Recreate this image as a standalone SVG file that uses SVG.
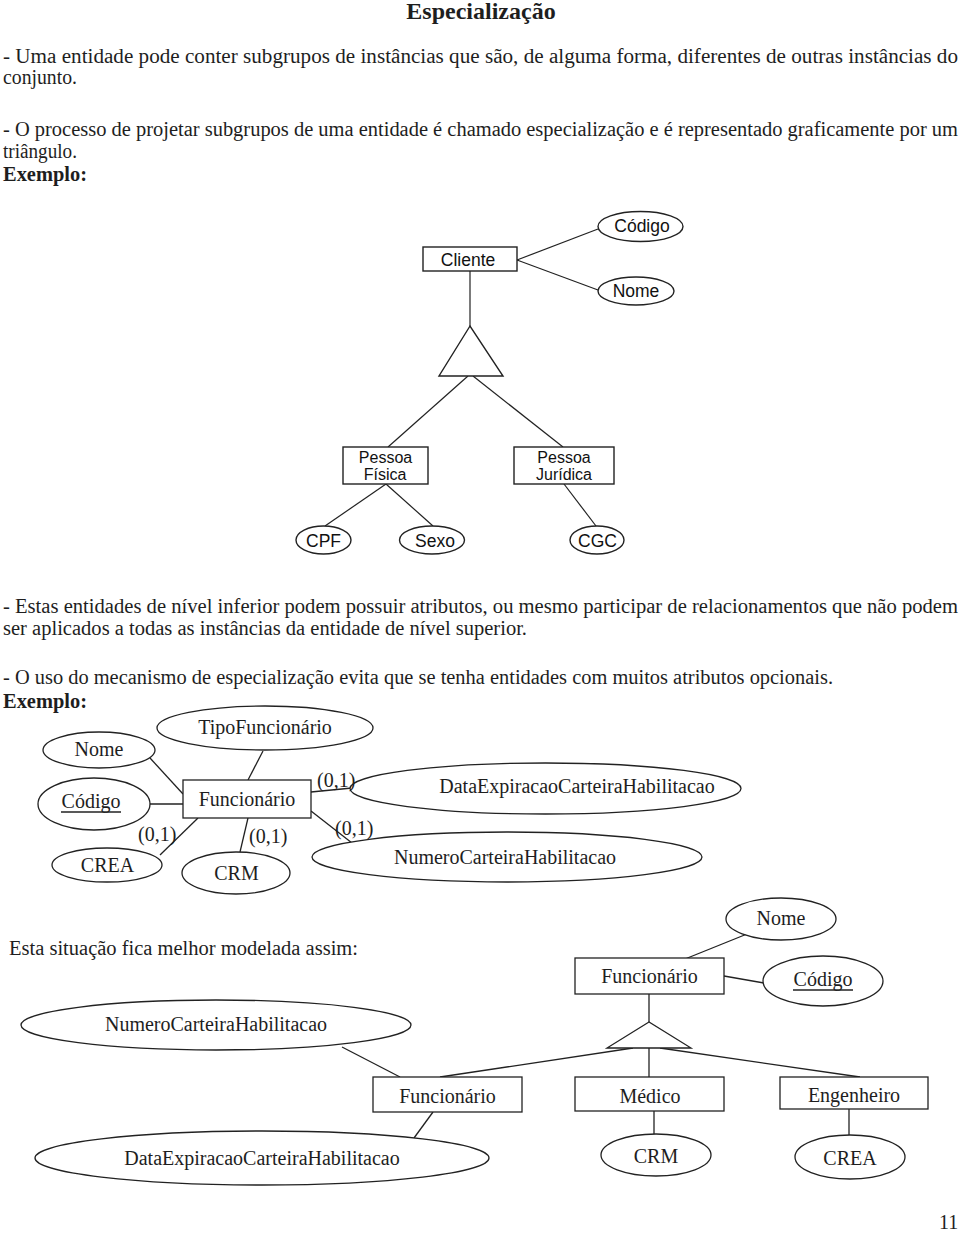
<svg xmlns="http://www.w3.org/2000/svg" width="960" height="1233" viewBox="0 0 960 1233">
<style>
.body{font-family:"Liberation Serif","Times New Roman",serif;font-size:20px;fill:#1e1e1e}
.bold{font-weight:bold}
.title{font-family:"Liberation Serif","Times New Roman",serif;font-size:24px;font-weight:bold;fill:#1e1e1e}
.sans{font-family:"Liberation Sans",Arial,sans-serif;font-size:17.5px;fill:#111;text-anchor:middle}
.sans2{font-family:"Liberation Sans",Arial,sans-serif;font-size:16px;fill:#111;text-anchor:middle}
.serif{font-family:"Liberation Serif","Times New Roman",serif;font-size:20px;fill:#1e1e1e;text-anchor:middle}
.lbl{font-family:"Liberation Serif","Times New Roman",serif;font-size:20px;fill:#1e1e1e}
.s1{fill:#fff;stroke:#222;stroke-width:1.4}
.s2{fill:#fff;stroke:#222;stroke-width:1.3}
.ln1{stroke:#222;stroke-width:1.2;fill:none}
.ln2{stroke:#222;stroke-width:1.3;fill:none}
</style>
<rect width="960" height="1233" fill="#fff"/>

<!-- Text -->
<g id="texts">
<text class="title" x="481" y="19" text-anchor="middle">Especialização</text>
<text class="body" x="3" y="63" textLength="955" lengthAdjust="spacingAndGlyphs">- Uma entidade pode conter subgrupos de instâncias que são, de alguma forma, diferentes de outras instâncias do</text>
<text class="body" x="3" y="84" textLength="74" lengthAdjust="spacingAndGlyphs">conjunto.</text>
<text class="body" x="3" y="136" textLength="955" lengthAdjust="spacingAndGlyphs">- O processo de projetar subgrupos de uma entidade é chamado especialização e é representado graficamente por um</text>
<text class="body" x="3" y="158" textLength="74" lengthAdjust="spacingAndGlyphs">triângulo.</text>
<text class="body bold" x="3" y="181" textLength="84" lengthAdjust="spacingAndGlyphs">Exemplo:</text>
<text class="body" x="3" y="613" textLength="955" lengthAdjust="spacingAndGlyphs">- Estas entidades de nível inferior podem possuir atributos, ou mesmo participar de relacionamentos que não podem</text>
<text class="body" x="3" y="635" textLength="524" lengthAdjust="spacingAndGlyphs">ser aplicados a todas as instâncias da entidade de nível superior.</text>
<text class="body" x="3" y="684" textLength="830" lengthAdjust="spacingAndGlyphs">- O uso do mecanismo de especialização evita que se tenha entidades com muitos atributos opcionais.</text>
<text class="body bold" x="3" y="708" textLength="84" lengthAdjust="spacingAndGlyphs">Exemplo:</text>
<text class="body" x="9" y="955" textLength="349" lengthAdjust="spacingAndGlyphs">Esta situação fica melhor modelada assim:</text>
<text class="body" x="939" y="1229">11</text>
</g>

<!-- Connectors -->
<g id="connectors">
<!-- diagram 1 -->
<line class="ln1" x1="517" y1="260" x2="598" y2="229"/>
<line class="ln1" x1="517" y1="260" x2="598" y2="290"/>
<line class="ln1" x1="470" y1="271" x2="470" y2="326"/>
<line class="ln1" x1="468" y1="376" x2="388" y2="447"/>
<line class="ln1" x1="473" y1="376" x2="563" y2="447"/>
<line class="ln1" x1="386" y1="484" x2="325" y2="526"/>
<line class="ln1" x1="386" y1="484" x2="433" y2="526"/>
<line class="ln1" x1="564" y1="484" x2="596" y2="526"/>
<!-- diagram 2 -->
<line class="ln2" x1="150" y1="758" x2="183" y2="794"/>
<line class="ln2" x1="150" y1="804" x2="183" y2="804"/>
<line class="ln2" x1="263" y1="751" x2="248" y2="780"/>
<line class="ln2" x1="160" y1="855" x2="198" y2="818"/>
<line class="ln2" x1="248" y1="818" x2="240" y2="852"/>
<line class="ln2" x1="311" y1="792" x2="352" y2="788"/>
<line class="ln2" x1="311" y1="811" x2="352" y2="843"/>
<!-- diagram 3 -->
<line class="ln2" x1="747" y1="934" x2="685" y2="959"/>
<line class="ln2" x1="724" y1="976" x2="764" y2="983"/>
<line class="ln2" x1="649" y1="994" x2="649" y2="1022"/>
<line class="ln2" x1="633" y1="1048" x2="440" y2="1077"/>
<line class="ln2" x1="649" y1="1048" x2="649" y2="1077"/>
<line class="ln2" x1="660" y1="1048" x2="860" y2="1077"/>
<line class="ln2" x1="342" y1="1047" x2="400" y2="1077"/>
<line class="ln2" x1="433" y1="1112" x2="414" y2="1138"/>
<line class="ln2" x1="654" y1="1111" x2="654" y2="1134"/>
<line class="ln2" x1="849" y1="1109" x2="849" y2="1135"/>
</g>

<!-- Diagram 1 nodes -->
<g id="cliente"><rect class="s1" x="423" y="247" width="94" height="24"/><text class="sans" x="468" y="266">Cliente</text></g>
<g id="codigo1"><ellipse class="s1" cx="640.5" cy="226.5" rx="42.5" ry="15"/><text class="sans" x="642" y="232">Código</text></g>
<g id="nome1"><ellipse class="s1" cx="636" cy="291" rx="38" ry="14"/><text class="sans" x="636" y="297">Nome</text></g>
<g id="tri1"><polygon class="s1" points="470,326 439,376 503,376"/></g>
<g id="pfisica"><rect class="s1" x="343" y="447" width="85" height="37"/><text class="sans2" x="385.5" y="463">Pessoa</text><text class="sans2" x="385" y="479.5">Física</text></g>
<g id="pjuridica"><rect class="s1" x="514" y="447" width="100" height="37"/><text class="sans2" x="564" y="463">Pessoa</text><text class="sans2" x="564" y="479.5">Jurídica</text></g>
<g id="cpf"><ellipse class="s1" cx="323.5" cy="540" rx="27.5" ry="14"/><text class="sans" x="323.5" y="547">CPF</text></g>
<g id="sexo"><ellipse class="s1" cx="432" cy="540" rx="32.5" ry="14"/><text class="sans" x="435" y="547">Sexo</text></g>
<g id="cgc"><ellipse class="s1" cx="597" cy="540" rx="27" ry="14"/><text class="sans" x="597.5" y="547">CGC</text></g>

<!-- Diagram 2 nodes -->
<g id="tipofunc"><ellipse class="s2" cx="265" cy="728" rx="108" ry="22"/><text class="serif" x="265" y="734">TipoFuncionário</text></g>
<g id="nome2"><ellipse class="s2" cx="99" cy="750" rx="56" ry="18"/><text class="serif" x="99" y="756">Nome</text></g>
<g id="codigo2"><ellipse class="s2" cx="94" cy="804" rx="56" ry="26"/><text class="serif" x="91" y="808">Código</text><line class="ln2" x1="61" y1="812" x2="121" y2="812"/></g>
<g id="crea2"><ellipse class="s2" cx="107" cy="865" rx="55" ry="17"/><text class="serif" x="107.5" y="872">CREA</text></g>
<g id="func2"><rect class="s2" x="183" y="780" width="128" height="38"/><text class="serif" x="247" y="806">Funcionário</text></g>
<g id="crm2"><ellipse class="s2" cx="236" cy="873" rx="54" ry="21"/><text class="serif" x="236.5" y="880">CRM</text></g>
<g id="dataexp2"><ellipse class="s2" cx="545.5" cy="788.5" rx="195.5" ry="25.5"/><text class="serif" x="577" y="793">DataExpiracaoCarteiraHabilitacao</text></g>
<g id="numcart2"><ellipse class="s2" cx="507" cy="857" rx="195" ry="25"/><text class="serif" x="505" y="864">NumeroCarteiraHabilitacao</text></g>
<g id="card2">
<text class="lbl" x="138" y="841">(0,1)</text>
<text class="lbl" x="249" y="843">(0,1)</text>
<text class="lbl" x="317" y="787">(0,1)</text>
<text class="lbl" x="335" y="835">(0,1)</text>
</g>

<!-- Diagram 3 nodes -->
<g id="nome3"><ellipse class="s2" cx="781" cy="919" rx="55" ry="21"/><text class="serif" x="781" y="925">Nome</text></g>
<g id="func3"><rect class="s2" x="575" y="958" width="149" height="36"/><text class="serif" x="649.5" y="983">Funcionário</text></g>
<g id="codigo3"><ellipse class="s2" cx="823" cy="981" rx="60" ry="25"/><text class="serif" x="823" y="986">Código</text><line class="ln2" x1="793" y1="990" x2="853" y2="990"/></g>
<g id="tri3"><polygon class="s2" points="649,1022 607,1048 691,1048"/></g>
<g id="numcart3"><ellipse class="s2" cx="216" cy="1025" rx="195" ry="25"/><text class="serif" x="216" y="1031">NumeroCarteiraHabilitacao</text></g>
<g id="funcb"><rect class="s2" x="373" y="1077" width="149" height="35"/><text class="serif" x="447.5" y="1103">Funcionário</text></g>
<g id="medico"><rect class="s2" x="575" y="1077" width="149" height="34"/><text class="serif" x="650" y="1103">Médico</text></g>
<g id="engenheiro"><rect class="s2" x="780" y="1077" width="148" height="32"/><text class="serif" x="854" y="1102">Engenheiro</text></g>
<g id="dataexp3"><ellipse class="s2" cx="262" cy="1158" rx="227" ry="27"/><text class="serif" x="262" y="1165">DataExpiracaoCarteiraHabilitacao</text></g>
<g id="crm3"><ellipse class="s2" cx="656" cy="1155" rx="55" ry="21"/><text class="serif" x="656" y="1163">CRM</text></g>
<g id="crea3"><ellipse class="s2" cx="850" cy="1157" rx="55" ry="22"/><text class="serif" x="850" y="1165">CREA</text></g>
</svg>
